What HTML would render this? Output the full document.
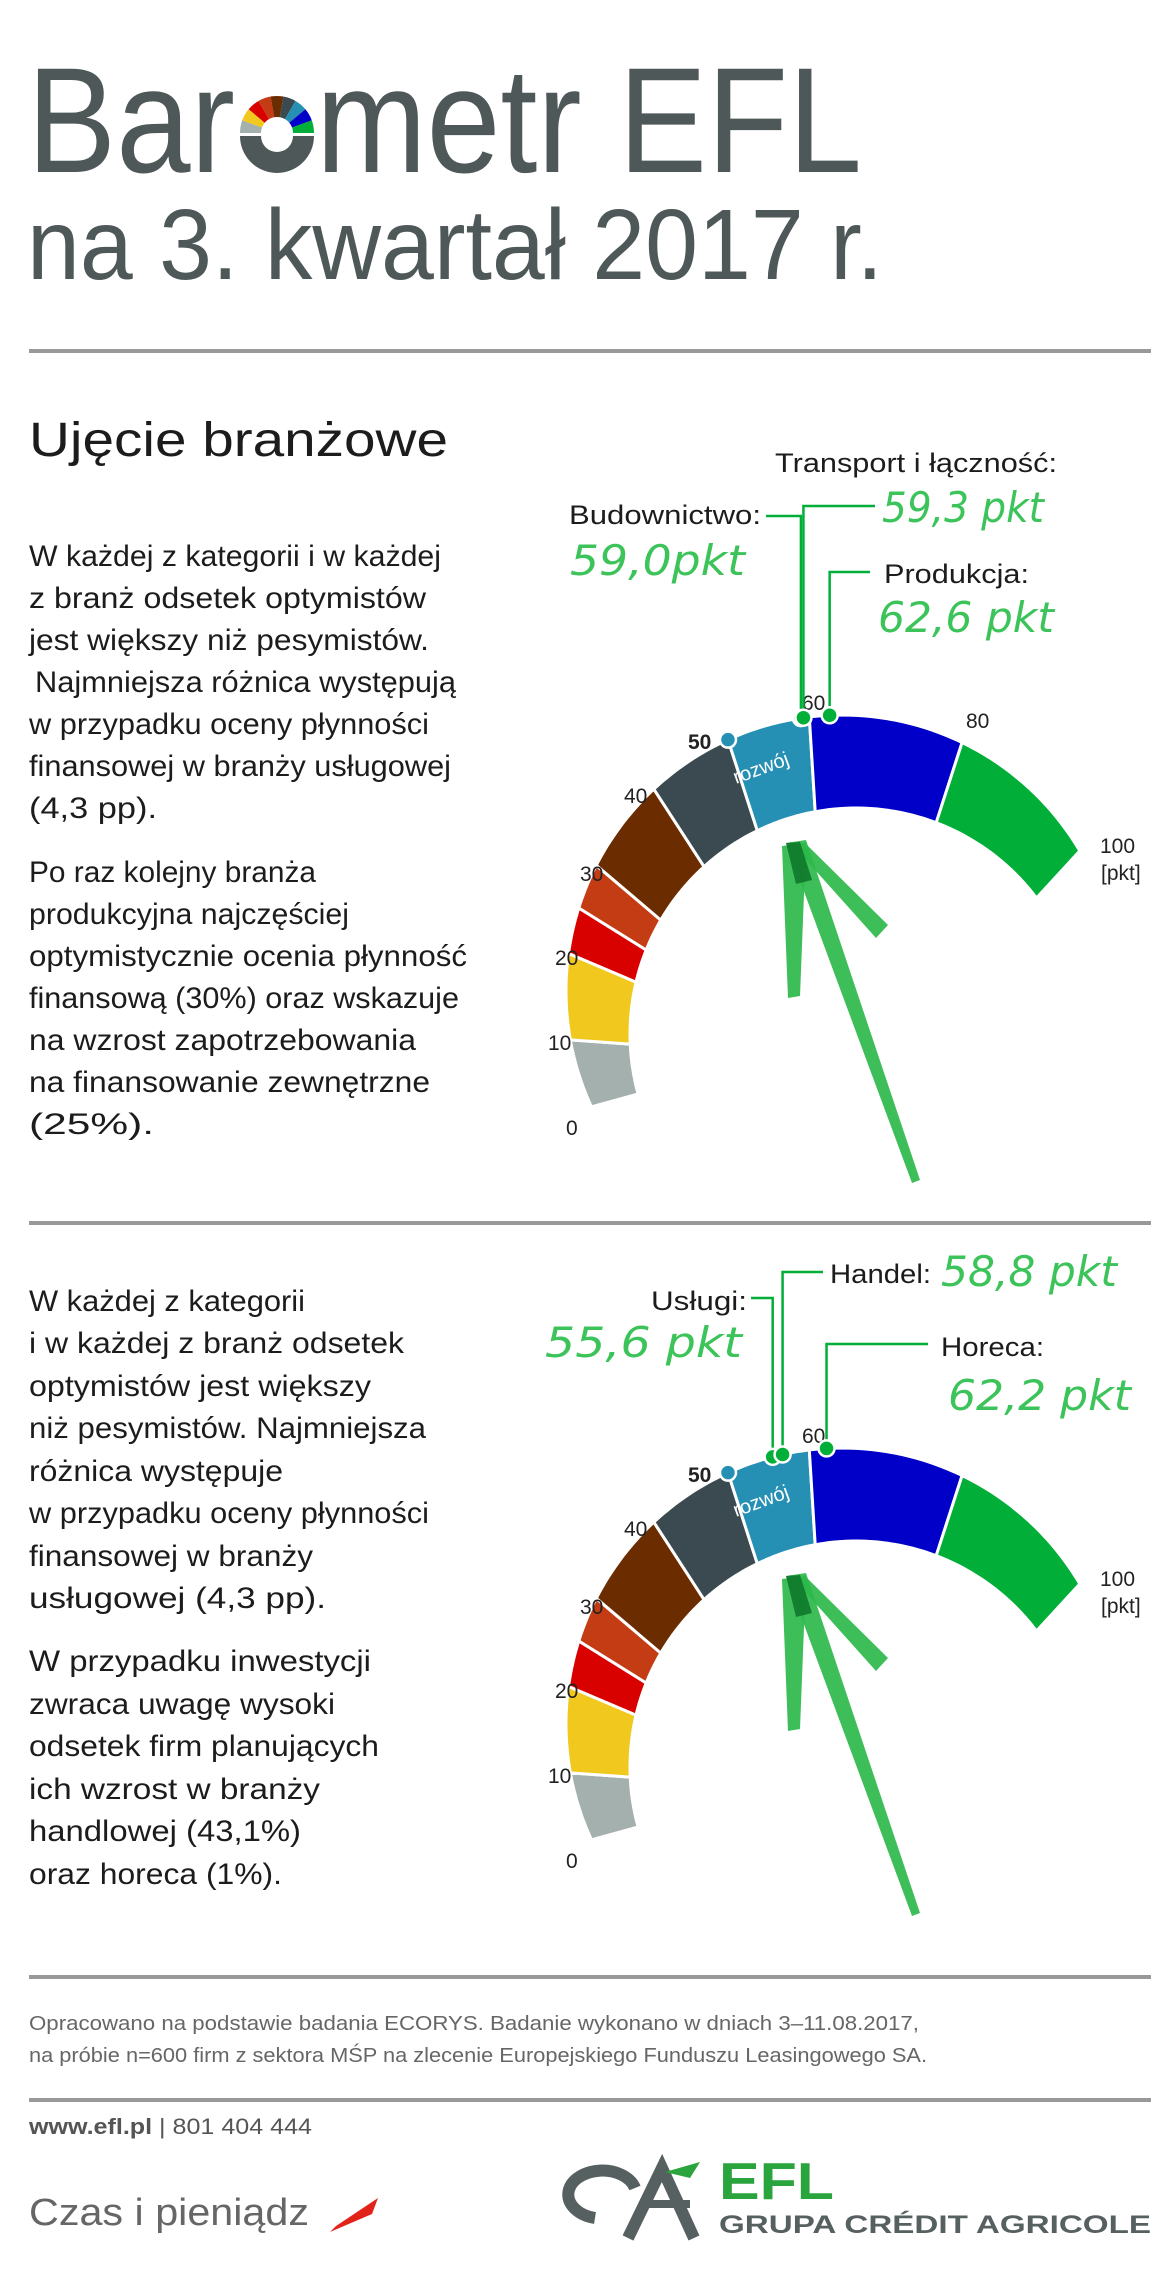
<!DOCTYPE html>
<html><head><meta charset="utf-8"><style>
html,body{margin:0;padding:0;background:#fff}
svg{display:block}
text{font-family:"Liberation Sans",DejaVu Sans,sans-serif}
.b{font-size:30px;fill:#1c1c1c}
.t{font-size:21px;fill:#222}
.lab{font-size:27px;fill:#1c1c1c}
.hw{font-size:42px;fill:#3cc35a;font-style:italic;font-family:"DejaVu Sans",sans-serif}
</style></head><body>
<svg id="s" width="1176" height="2282" viewBox="0 0 1176 2282" xmlns="http://www.w3.org/2000/svg">
<rect width="1176" height="2282" fill="#fff"/>
<text x="27" y="172" font-size="150" fill="#4f5858" textLength="208" lengthAdjust="spacingAndGlyphs">Bar</text>
<g id="logo"></g>
<text x="316" y="172" font-size="150" fill="#4f5858" textLength="546" lengthAdjust="spacingAndGlyphs">metr EFL</text>
<text x="27" y="279" font-size="100" fill="#4f5858" textLength="856" lengthAdjust="spacingAndGlyphs">na 3. kwartał 2017 r.</text>
<rect x="29" y="349" width="1122" height="4" fill="#999"/>
<text x="29" y="456" font-size="48" fill="#1c1c1c" textLength="419" lengthAdjust="spacingAndGlyphs">Ujęcie branżowe</text>
<g class="b">
<text x="29" y="566" textLength="412" lengthAdjust="spacingAndGlyphs">W każdej z kategorii i w każdej</text>
<text x="29" y="608" textLength="397" lengthAdjust="spacingAndGlyphs">z branż odsetek optymistów</text>
<text x="29" y="650" textLength="400" lengthAdjust="spacingAndGlyphs">jest większy niż pesymistów.</text>
<text x="35" y="692" textLength="421" lengthAdjust="spacingAndGlyphs">Najmniejsza różnica występują</text>
<text x="29" y="734" textLength="400" lengthAdjust="spacingAndGlyphs">w przypadku oceny płynności</text>
<text x="29" y="776" textLength="422" lengthAdjust="spacingAndGlyphs">finansowej w branży usługowej</text>
<text x="29" y="818" textLength="128" lengthAdjust="spacingAndGlyphs">(4,3 pp).</text>
<text x="29" y="882" textLength="287" lengthAdjust="spacingAndGlyphs">Po raz kolejny branża</text>
<text x="29" y="924" textLength="320" lengthAdjust="spacingAndGlyphs">produkcyjna najczęściej</text>
<text x="29" y="966" textLength="438" lengthAdjust="spacingAndGlyphs">optymistycznie ocenia płynność</text>
<text x="29" y="1008" textLength="430" lengthAdjust="spacingAndGlyphs">finansową (30%) oraz wskazuje</text>
<text x="29" y="1050" textLength="387" lengthAdjust="spacingAndGlyphs">na wzrost zapotrzebowania</text>
<text x="29" y="1092" textLength="401" lengthAdjust="spacingAndGlyphs">na finansowanie zewnętrzne</text>
<text x="29" y="1134" textLength="125" lengthAdjust="spacingAndGlyphs">(25%).</text>
</g>
<rect x="29" y="1221" width="1122" height="4" fill="#999"/>
<g class="b">
<text x="29" y="1311" textLength="276" lengthAdjust="spacingAndGlyphs">W każdej z kategorii</text>
<text x="29" y="1353" textLength="375" lengthAdjust="spacingAndGlyphs">i w każdej z branż odsetek</text>
<text x="29" y="1396" textLength="342" lengthAdjust="spacingAndGlyphs">optymistów jest większy</text>
<text x="29" y="1438" textLength="397" lengthAdjust="spacingAndGlyphs">niż pesymistów. Najmniejsza</text>
<text x="29" y="1481" textLength="254" lengthAdjust="spacingAndGlyphs">różnica występuje</text>
<text x="29" y="1523" textLength="400" lengthAdjust="spacingAndGlyphs">w przypadku oceny płynności</text>
<text x="29" y="1566" textLength="284" lengthAdjust="spacingAndGlyphs">finansowej w branży</text>
<text x="29" y="1608" textLength="297" lengthAdjust="spacingAndGlyphs">usługowej (4,3 pp).</text>
<text x="29" y="1671" textLength="342" lengthAdjust="spacingAndGlyphs">W przypadku inwestycji</text>
<text x="29" y="1714" textLength="306" lengthAdjust="spacingAndGlyphs">zwraca uwagę wysoki</text>
<text x="29" y="1756" textLength="350" lengthAdjust="spacingAndGlyphs">odsetek firm planujących</text>
<text x="29" y="1799" textLength="291" lengthAdjust="spacingAndGlyphs">ich wzrost w branży</text>
<text x="29" y="1841" textLength="272" lengthAdjust="spacingAndGlyphs">handlowej (43,1%)</text>
<text x="29" y="1884" textLength="253" lengthAdjust="spacingAndGlyphs">oraz horeca (1%).</text>
</g>
<g id="g1"></g><g id="g2"></g>
<text class="lab" x="775" y="472" textLength="282" lengthAdjust="spacingAndGlyphs">Transport i łączność:</text>
<text class="hw" x="882" y="522" textLength="162" lengthAdjust="spacingAndGlyphs">59,3 pkt</text>
<text class="lab" x="569" y="524" textLength="192" lengthAdjust="spacingAndGlyphs">Budownictwo:</text>
<text class="hw" x="570" y="575" textLength="175" lengthAdjust="spacingAndGlyphs">59,0pkt</text>
<text class="lab" x="884" y="583" textLength="145" lengthAdjust="spacingAndGlyphs">Produkcja:</text>
<text class="hw" x="878" y="632" textLength="176" lengthAdjust="spacingAndGlyphs">62,6 pkt</text>
<text class="lab" x="651" y="1310" textLength="96" lengthAdjust="spacingAndGlyphs">Usługi:</text>
<text class="hw" x="545" y="1357" textLength="197" lengthAdjust="spacingAndGlyphs">55,6 pkt</text>
<text class="lab" x="830" y="1283" textLength="101" lengthAdjust="spacingAndGlyphs">Handel:</text>
<text class="hw" x="941" y="1286" textLength="176" lengthAdjust="spacingAndGlyphs">58,8 pkt</text>
<text class="lab" x="941" y="1356" textLength="103" lengthAdjust="spacingAndGlyphs">Horeca:</text>
<text class="hw" x="948" y="1410" textLength="183" lengthAdjust="spacingAndGlyphs">62,2 pkt</text>

<rect x="29" y="1975" width="1122" height="4" fill="#999"/>
<text x="29" y="2030" font-size="20" fill="#666" textLength="890" lengthAdjust="spacingAndGlyphs">Opracowano na podstawie badania ECORYS. Badanie wykonano w dniach 3–11.08.2017,</text>
<text x="29" y="2062" font-size="20" fill="#666" textLength="898" lengthAdjust="spacingAndGlyphs">na próbie n=600 firm z sektora MŚP na zlecenie Europejskiego Funduszu Leasingowego SA.</text>
<rect x="29" y="2098" width="1122" height="4" fill="#999"/>
<text x="29" y="2134" font-size="22" fill="#555" textLength="283" lengthAdjust="spacingAndGlyphs"><tspan font-weight="bold">www.efl.pl</tspan> | 801 404 444</text>
<text x="29" y="2225" font-size="38" fill="#666" textLength="280" lengthAdjust="spacingAndGlyphs">Czas i pieniądz</text>
<polygon points="336,2226 378,2198 372,2214 330,2232" fill="#e2231a"/>
<path d="M595,2218 a34,24 0 1 1 40,-30" fill="none" stroke="#566060" stroke-width="12"/>
<path d="M628,2238 L662,2168 L694,2238" fill="none" stroke="#566060" stroke-width="12"/>
<path d="M640,2204 L690,2204" stroke="#566060" stroke-width="8"/>
<path d="M665,2172 L700,2162 L690,2178 Z" fill="#2aa43c"/>
<text x="719" y="2199" font-size="52" font-weight="bold" fill="#2aa43c" textLength="115" lengthAdjust="spacingAndGlyphs">EFL</text>
<text x="719" y="2233" font-size="25" font-weight="bold" fill="#566060" textLength="432" lengthAdjust="spacingAndGlyphs">GRUPA CRÉDIT AGRICOLE</text>
</svg>
<script>
(function(){
var NS="http://www.w3.org/2000/svg";
function el(p,n,a,t){var e=document.createElementNS(NS,n);for(var k in a)e.setAttribute(k,a[k]);if(t)e.textContent=t;p.appendChild(e);return e;}
var V=[0,10,20,25,30,40,50,60,80,100],A=[155.2,169.8,187.8,197.5,207.1,227,245.6,263.2,295.8,329.5];
function ang(v){for(var i=0;i<V.length-1;i++){if(v<=V[i+1]){return A[i]+(v-V[i])/(V[i+1]-V[i])*(A[i+1]-A[i]);}}return A[A.length-1];}
function iang(t){return t<=263.2?164.6+(t-155.2)*(95/108):259.6+(t-263.2)*(63.4/66.3);}
var cols=["#a4b0ae","#f0c81e","#d90000","#c43c13","#6b2c00","#3a4a50","#2690b4","#0000c8","#00ae38"];
function rad(d){return d*Math.PI/180;}
function gauge(g,dy,lines){
 var ox=842,oy=991+dy,R=276,ix=856,iy=1034+dy,r=226;
 function op(t){return [ox+R*Math.cos(rad(t)),oy+R*Math.sin(rad(t))];}
 function ip(t){var u=iang(t);return [ix+r*Math.cos(rad(u)),iy+r*Math.sin(rad(u))];}
 for(var i=0;i<9;i++){
  var a0=A[i],a1=A[i+1],pts=[],n=20;
  for(var k=0;k<=n;k++)pts.push(op(a0+(a1-a0)*k/n));
  for(var k=n;k>=0;k--)pts.push(ip(a0+(a1-a0)*k/n));
  el(g,"polygon",{points:pts.map(function(p){return p[0].toFixed(1)+","+p[1].toFixed(1)}).join(" "),fill:cols[i],stroke:"#fff","stroke-width":"3","stroke-linejoin":"round"});
 }
 var ag=el(g,"g",{fill:"#2db84a","fill-opacity":"0.92"});
 el(ag,"path",{d:"M786,"+(843+dy)+" L806,"+(840+dy)+" L920,"+(1180+dy)+" L912,"+(1183+dy)+" Z"});
 el(ag,"path",{d:"M782,"+(846+dy)+" L806,"+(843+dy)+" L800,"+(996+dy)+" L788,"+(998+dy)+" Z"});
 el(ag,"path",{d:"M790,"+(842+dy)+" L808,"+(846+dy)+" L888,"+(925+dy)+" L876,"+(938+dy)+" Z"});
 el(ag,"path",{d:"M786,"+(843+dy)+" L800,"+(842+dy)+" L812,"+(880+dy)+" L796,"+(884+dy)+" Z",fill:"#107a2c"});
 var L=[["0",566,1135],["10",548,1050],["20",555,965],["30",580,881],["40",624,803],["60",802,710],["100",1100,853],["[pkt]",1101,880]];
 L.forEach(function(l){el(g,"text",{"class":"t",x:l[1],y:l[2]+dy},l[0]);});
 if(dy==0)el(g,"text",{"class":"t",x:966,y:728},"80");
 el(g,"text",{"class":"t",x:688,y:749+dy,"font-weight":"bold"},"50");
 el(g,"text",{x:0,y:0,"font-size":"20",fill:"#fff",transform:"translate(736,"+(784+dy)+") rotate(-20)"},"rozwój");
 var p=op(ang(50));el(g,"circle",{cx:p[0],cy:p[1],r:8,fill:"#2690b4",stroke:"#fff","stroke-width":"2.5"});
 lines.forEach(function(d){var q=op(ang(d[0]));
  el(g,"polyline",{points:q[0]+","+q[1]+" "+q[0]+","+d[1]+" "+d[2]+","+d[1],fill:"none",stroke:"#00ae38","stroke-width":"2.5"});});
 lines.forEach(function(d){var q=op(ang(d[0]));el(g,"circle",{cx:q[0],cy:q[1],r:8,fill:"#00ae38",stroke:"#fff","stroke-width":"2.5"});});
}
gauge(document.getElementById("g1"),0,[[59.0,516,766],[59.3,506,875],[62.6,572,870]]);
gauge(document.getElementById("g2"),733,[[55.6,1298,751],[56.8,1272,823],[62.2,1344,928]]);
var lg=document.getElementById("logo"),cx=277,cy=133,Ro=37,Ri=16;
var lc=["#a4b0ae","#f0c81e","#d90000","#c43c13","#6b2c00","#3a4a50","#2690b4","#0000c8","#00ae38"];
for(var i=0;i<9;i++){var a0=180+i*20,a1=a0+20,pts=[];
 for(var k=0;k<=6;k++){var t=rad(a0+(a1-a0)*k/6);pts.push((cx+Ro*Math.cos(t))+","+(cy+Ro*Math.sin(t)));}
 for(var k=6;k>=0;k--){var t=rad(a0+(a1-a0)*k/6);pts.push((cx+Ri*Math.cos(t))+","+(cy+Ri*Math.sin(t)));}
 el(lg,"polygon",{points:pts.join(" "),fill:lc[i]});}
el(lg,"path",{d:"M"+(cx-Ro)+","+(cy+3)+" A"+Ro+","+Ro+" 0 0 0 "+(cx+Ro)+","+(cy+3)+" L"+(cx+Ri)+","+(cy+3)+" A"+Ri+","+Ri+" 0 0 1 "+(cx-Ri)+","+(cy+3)+" Z",fill:"#4f5858"});
})();
</script>
</body></html>
